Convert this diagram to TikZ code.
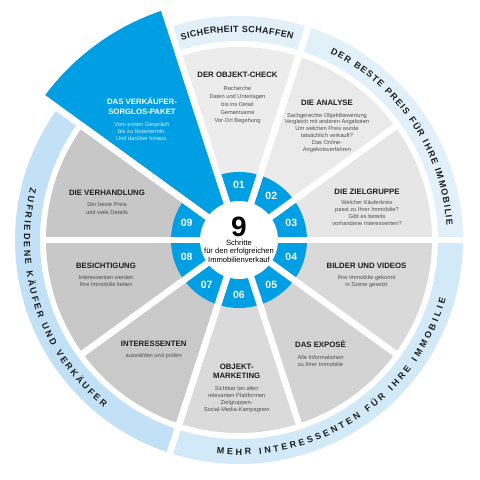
\documentclass[tikz,border=0pt]{standalone}
\usepackage{fontspec}
\setmainfont{Liberation Sans}
\usepackage{tikz}
\usetikzlibrary{positioning,decorations.text}
\definecolor{stepblue}{HTML}{009FE3}
\definecolor{ringlight}{HTML}{E2F0FA}
\definecolor{ringmid}{HTML}{D2E9F8}
\definecolor{ringdark}{HTML}{C2E1F6}
\definecolor{titletext}{HTML}{1E1E1E}
\definecolor{bodytext}{HTML}{505050}
\definecolor{g01}{HTML}{ECECEC}
\definecolor{g02}{HTML}{EAEAEA}
\definecolor{g03}{HTML}{E6E6E6}
\definecolor{g04}{HTML}{D9D9D9}
\definecolor{g05}{HTML}{D3D3D3}
\definecolor{g06}{HTML}{DADADA}
\definecolor{g07}{HTML}{C9C9C9}
\definecolor{g08}{HTML}{C8C8C8}
\definecolor{g09}{HTML}{C7C7C7}
\tikzset{
  wedgetitle/.style={font=\fontsize{7.8}{9.6}\selectfont\bfseries, text=titletext, align=center, inner sep=0pt},
  wedgebody/.style={font=\fontsize{5.7}{6.9}\selectfont, text=bodytext, align=center, inner sep=0pt},
  numlabel/.style={font=\fontsize{10.5}{12}\selectfont\bfseries, text=white, inner sep=0pt},
  centersub/.style={font=\fontsize{7.6}{8.5}\selectfont, align=center, inner sep=0pt},
  gapline/.style={draw=white, line width=6.5pt},
  arctext/.style={decorate, decoration={text along path, text align={fit to path}, text color=titletext}}
}
\begin{document}
\begin{tikzpicture}[x=1pt, y=1pt, node distance=6.8pt]
  \useasboundingbox[fill=white] (-239,-240) rectangle (241,240);

  % wedges, number ring, highlighted step
  \foreach \a/\col [evaluate=\a as \b using \a+36] in {72/g01,36/g02,0/g03,-36/g04,-72/g05,-108/g06,-144/g07,180/g08,144/g09}
    \fill[\col] (0,0) -- (\a:193) arc[start angle=\a, end angle=\b, radius=193] -- cycle;
  \fill[stepblue] (0,0) circle (68);
  \fill[stepblue] (0,0) -- (108:242) arc[start angle=108, end angle=144, radius=242] -- cycle;

  % outer ring
  \fill[ringlight] (72:199) arc[start angle=72, end angle=108, radius=199] -- (108:224) arc[start angle=108, end angle=72, radius=224] -- cycle;
  \fill[ringlight] (0:199) arc[start angle=0, end angle=72, radius=199] -- (72:224) arc[start angle=72, end angle=0, radius=224] -- cycle;
  \fill[ringmid] (-108:199) arc[start angle=-108, end angle=0, radius=199] -- (0:224) arc[start angle=0, end angle=-108, radius=224] -- cycle;
  \fill[ringdark] (144:199) arc[start angle=144, end angle=252, radius=199] -- (252:224) arc[start angle=252, end angle=144, radius=224] -- cycle;

  % white gaps
  \foreach \a in {108,72,36,0,-36,-72,-108,-144,180,144}
    \draw[gapline] (0,0) -- (\a:196);
  \foreach \a in {108,72,0,-108,144}
    \draw[gapline] (0,0) -- (\a:250);
  \fill[white] (0,0) circle (39);

  % ring texts
  \path[arctext, decoration={text={|\fontsize{9}{10}\selectfont\bfseries|SICHERHEIT SCHAFFEN}}]
    (106:208) arc[start angle=106, end angle=75, radius=208];
  \path[arctext, decoration={text={|\fontsize{9}{10}\selectfont\bfseries|DER BESTE PREIS FÜR IHRE IMMOBILIE}}]
    (64:208) arc[start angle=64, end angle=4, radius=208];
  \path[arctext, decoration={text={|\fontsize{9}{10}\selectfont\bfseries|MEHR INTERESSENTEN FÜR IHRE IMMOBILIE}}]
    (-96:215) arc[start angle=-96, end angle=-16, radius=215];
  \path[arctext, decoration={text={|\fontsize{9}{10}\selectfont\bfseries|ZUFRIEDENE KÄUFER UND VERKÄUFER}}]
    (166:215) arc[start angle=166, end angle=231, radius=215];

  % centre
  \node[font=\fontsize{28}{30}\selectfont\bfseries, inner sep=0pt] (nine) at (0,13) {9};
  \node[centersub, below=2.5pt of nine] (steps) {Schritte\\für den erfolgreichen\\Immobilienverkauf};
  \foreach \n/\a in {01/90,02/54,03/18,04/-18,05/-54,06/-90,07/-126,08/-162,09/162}
    \node[numlabel] (n\n) at (\a:55) {\n};

  % step texts
  \node[wedgetitle] (t01) at (-1.5,165) {DER OBJEKT-CHECK};
  \node[wedgebody, font=\fontsize{5.7}{8}\selectfont, below=8.5pt of t01] (b01) {Recherche\\Daten und Unterlagen\\bis ins Detail\\Gemeinsame\\Vor-Ort Begehung};
  \node[wedgetitle] (t02) at (88,137) {DIE ANALYSE};
  \node[wedgebody, below=of t02] (b02) {Sachgerechte Objektbewertung\\Vergleich mit anderen Angeboten\\Um welchen Preis wurde\\tatsächlich verkauft?\\Das Online-\\Angebotsverfahren};
  \node[wedgetitle] (t03) at (128,48.3) {DIE ZIELGRUPPE};
  \node[wedgebody, below=5.8pt of t03] (b03) {Welcher Käuferkreis\\passt zu Ihrer Immobilie?\\Gibt es bereits\\vorhandene Interessenten?};
  \node[wedgetitle] (t04) at (127.5,-25.7) {BILDER UND VIDEOS};
  \node[wedgebody, below=of t04] (b04) {Ihre Immobilie gekonnt\\in Szene gesetzt};
  \node[wedgetitle] (t05) at (81.5,-104.3) {DAS EXPOSÈ};
  \node[wedgebody, below=of t05] (b05) {Alle Informationen\\zu Ihrer Immobilie};
  \node[wedgetitle] (t06) at (-2.3,-131.4) {OBJEKT-\\MARKETING};
  \node[wedgebody, below=7.5pt of t06] (b06) {Sichtbar bei allen\\relevanten Plattformen\\Zielgruppen-\\Social-Media-Kampagnen};
  \node[wedgetitle] (t07) at (-85.3,-104) {INTERESSENTEN};
  \node[wedgebody, below=6.5pt of t07] (b07) {auswählen und prüfen};
  \node[wedgetitle] (t08) at (-133,-25.7) {BESICHTIGUNG};
  \node[wedgebody, below=of t08] (b08) {Interessenten werden\\Ihre Immobilie lieben};
  \node[wedgetitle] (t09) at (-132,46.7) {DIE VERHANDLUNG};
  \node[wedgebody, font=\fontsize{5.7}{7.7}\selectfont, below=6.2pt of t09] (b09) {Der beste Preis\\und viele Details};
  \node[wedgetitle, text=white, font=\fontsize{7.8}{10}\selectfont\bfseries] (t10) at (-97,133.3) {DAS VERKÄUFER-\\SORGLOS-PAKET};
  \node[wedgebody, text=white!85!stepblue, below=of t10] (b10) {Vom ersten Gespräch\\bis zu Notartermin.\\Und darüber hinaus.};
\end{tikzpicture}
\end{document}
